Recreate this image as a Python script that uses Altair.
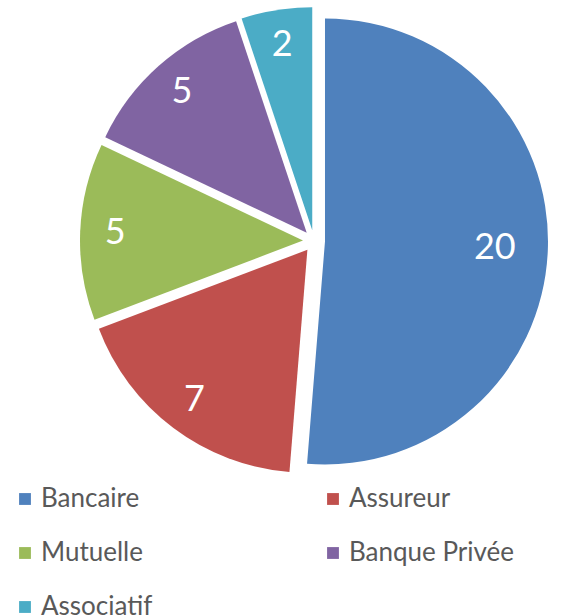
import altair as alt
import pandas as pd

categories = ["Bancaire", "Assureur", "Mutuelle", "Banque Privée", "Associatif"]
values = [20, 7, 5, 5, 2]
colors = ["#4F81BD", "#C0504D", "#9BBB59", "#8064A2", "#4BACC6"]

df = pd.DataFrame({"cat": categories, "val": values, "order": list(range(len(values)))})

CX, CY, R, EXPLODE, LABEL_R = 314, 241, 223, 11, 188
FONT = "Lato"

base = (
    alt.Chart(df)
    .transform_window(cum="sum(val)", sort=[alt.SortField("order")], frame=[None, 0])
    .transform_joinaggregate(total="sum(val)")
    .transform_calculate(
        mid="(datum.cum - datum.val / 2) / datum.total * 2 * PI",
        lr=f"{LABEL_R} - 18 * (length(toString(datum.val)) - 1)",
    )
    .transform_calculate(
        px=f"{CX} + {EXPLODE} * sin(datum.mid)",
        py=f"{CY} - {EXPLODE} * cos(datum.mid)",
    )
    .transform_calculate(
        lx="datum.px + datum.lr * sin(datum.mid)",
        ly="datum.py - datum.lr * cos(datum.mid)",
    )
)

arcs = base.mark_arc(radius=R, stroke=None).encode(
    theta=alt.Theta("val:Q", stack=True),
    order=alt.Order("order:Q"),
    x=alt.X("px:Q", scale=None, axis=None),
    y=alt.Y("py:Q", scale=None, axis=None),
    color=alt.Color(
        "cat:N",
        scale=alt.Scale(domain=categories, range=colors),
        legend=alt.Legend(
            title=None,
            orient="none",
            legendX=12,
            legendY=486,
            columns=2,
            direction="horizontal",
            columnPadding=167,
            rowPadding=28,
            symbolType="square",
            symbolSize=140,
            symbolStrokeWidth=0,
            labelFont=FONT,
            labelFontSize=26,
            labelColor="#595959",
            labelOffset=3,
            labelLimit=300,
            padding=0,
        ),
    ),
)

labels = base.mark_text(
    font=FONT, fontSize=36, color="white", align="center", baseline="middle"
).encode(
    x=alt.X("lx:Q", scale=None, axis=None),
    y=alt.Y("ly:Q", scale=None, axis=None),
    text=alt.Text("val:Q"),
)

chart = (
    alt.layer(arcs, labels)
    .properties(width=586, height=616, autosize=alt.AutoSizeParams(type="none"), padding=0)
    .configure_view(stroke=None)
)

chart.save("out.html", embed_options={"renderer": "svg", "actions": False})
